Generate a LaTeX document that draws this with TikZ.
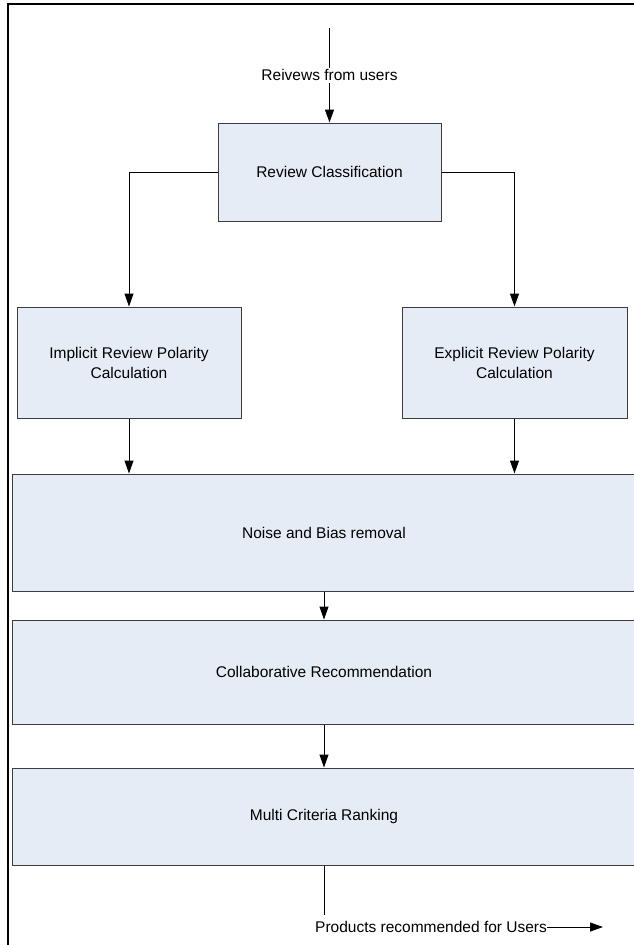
\documentclass[tikz,border=0pt]{standalone}
\usepackage{fontspec}
\setmainfont{Liberation Sans}
\usetikzlibrary{arrows.meta}
\definecolor{boxfill}{RGB}{230,236,246}
\definecolor{boxline}{RGB}{60,60,60}
\begin{document}
\begin{tikzpicture}[x=1pt,y=-1pt,
  every node/.style={font=\fontsize{15.5}{20}\selectfont, inner sep=0pt},
  procbox/.style={draw=boxline, fill=boxfill, line width=1pt, align=center},
  arr/.style={line width=1pt, -{Triangle[length=13pt,width=9pt]}},
  plain/.style={line width=1pt}]
\useasboundingbox (0,0) rectangle (634,945);
\clip (0,0) rectangle (634,945);
% frame
\draw[line width=2pt] (8,960) -- (8,4) -- (650,4);
% boxes
\node[procbox, minimum width=223pt, minimum height=98pt] (rc) at (329.5,172) {Review Classification};
\node[procbox, minimum width=224pt, minimum height=111pt] (imp) at (129,362.5) {Implicit Review Polarity\\Calculation};
\node[procbox, minimum width=225pt, minimum height=111pt] (exp) at (514.5,362.5) {Explicit Review Polarity\\Calculation};
\node[procbox, minimum width=624pt, minimum height=117pt] (noise) at (324,532.5) {Noise and Bias removal};
\node[procbox, minimum width=624pt, minimum height=104pt] (collab) at (324,672) {Collaborative Recommendation};
\node[procbox, minimum width=624pt, minimum height=97pt] (multi) at (324,816.5) {Multi Criteria Ranking};
% input
\coordinate (in) at (329.5,28);
\draw[arr] (in) -- node[fill=white, inner sep=2pt] (intxt) {Reivews from users} (rc.north);
% branches
\draw[arr] (rc.west) -| (imp.north);
\draw[arr] (rc.east) -| (exp.north);
\draw[arr] (imp.south) -- (imp.south |- noise.north);
\draw[arr] (exp.south) -- (exp.south |- noise.north);
\draw[arr] (noise.south) -- (collab.north);
\draw[arr] (collab.south) -- (multi.north);
% output
\coordinate (outend) at (324,915);
\draw[plain] (multi.south) -- (outend);
\node[anchor=west] (outtxt) at (315,927) {Products recommended for Users};
\coordinate (outtip) at (603,927);
\draw[arr] (outtxt.east) -- (outtip);
\end{tikzpicture}
\end{document}
